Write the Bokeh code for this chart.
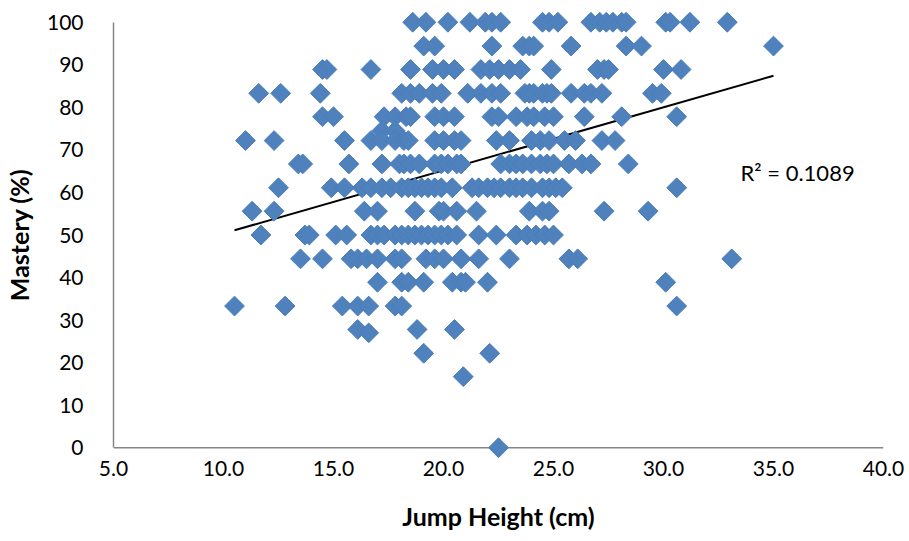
import numpy as np
from bokeh.plotting import figure
from bokeh.models import Range1d, FixedTicker, PrintfTickFormatter, Label
from bokeh.embed import file_html
from bokeh.resources import INLINE

# ---- data ----
h100 = [18.6, 19.2, 20.2, 21.2, 21.9, 22.2, 22.6, 24.5, 24.8, 25.2, 26.7, 27.1, 27.4, 27.7, 28.1, 28.3, 30.1, 30.3, 31.2, 32.9]
h944 = [19.1, 19.6, 22.2, 23.6, 23.9, 24.1, 25.8, 28.3, 29.0, 35.0]
h889 = [14.5, 14.7, 16.7, 18.5, 19.5, 20.0, 20.5, 21.7, 22.1, 22.5, 23.0, 23.5, 24.9, 27.0, 27.3, 27.5, 30.0, 30.8]
h833 = [11.6, 12.6, 14.4, 18.1, 18.5, 18.9, 19.5, 19.9, 21.1, 21.7, 22.2, 22.6, 23.7, 23.9, 24.1, 24.5, 24.7, 24.9, 25.8, 26.4, 26.7, 27.2, 29.5, 29.9]
h778 = [14.5, 15.0, 17.3, 17.8, 18.3, 18.5, 19.6, 20.0, 20.5, 22.2, 22.5, 23.3, 23.8, 24.1, 24.6, 25.0, 26.4, 28.1, 30.6]
h745 = [17.2, 17.8]
h722 = [11.0, 12.3, 15.5, 16.7, 17.2, 17.8, 18.2, 18.4, 19.6, 20.0, 20.5, 20.8, 22.4, 23.0, 24.0, 24.4, 24.8, 25.5, 26.0, 27.2, 27.8]
h667 = [13.4, 13.6, 15.7, 17.2, 18.0, 18.2, 18.5, 18.9, 19.6, 19.9, 20.2, 20.6, 20.8, 22.6, 23.0, 23.3, 23.6, 24.0, 24.4, 24.7, 25.0, 25.7, 26.3, 26.7, 28.4]
h611 = [12.5, 14.9, 15.5, 16.3, 16.7, 17.2, 17.6, 18.1, 18.4, 18.7, 19.0, 19.3, 19.6, 19.9, 20.4, 21.3, 21.6, 22.0, 22.3, 22.6, 23.0, 23.3, 23.6, 24.0, 24.5, 24.8, 25.1, 25.4, 30.6]
h556 = [11.3, 12.3, 16.4, 17.0, 18.7, 19.8, 20.0, 20.6, 21.5, 23.9, 24.5, 24.8, 27.3, 29.3]
h500 = [11.7, 13.7, 13.9, 15.1, 15.6, 16.7, 17.0, 17.3, 17.8, 18.1, 18.4, 18.7, 19.0, 19.3, 19.6, 19.9, 20.2, 20.6, 21.6, 22.4, 23.3, 23.8, 24.2, 24.6, 25.0]
h444 = [13.5, 14.5, 15.8, 16.1, 16.5, 17.0, 17.8, 18.1, 19.2, 19.6, 20.0, 20.8, 21.6, 23.0, 25.7, 26.1, 33.1]
h389 = [17.0, 18.1, 18.4, 19.1, 20.4, 20.8, 21.0, 22.0, 30.1]
h333 = [10.5, 12.8, 15.4, 16.1, 16.6, 17.8, 18.1, 30.6]
h278 = [16.1, 18.8, 20.5]
h270 = [16.6]
h222 = [19.1, 22.1]
h167 = [20.9]
h000 = [22.5]

rows = [(100.0, h100), (94.4, h944), (88.9, h889), (83.3, h833), (77.8, h778),
        (74.5, h745), (72.2, h722), (66.7, h667), (61.1, h611), (55.6, h556),
        (50.0, h500), (44.4, h444), (38.9, h389), (33.3, h333), (27.8, h278),
        (27.0, h270), (22.2, h222), (16.7, h167), (0.0, h000)]

jump_height = [h for lvl, hs in rows for h in hs]
mastery = [lvl for lvl, hs in rows for h in hs]

x_ticks = [5, 10, 15, 20, 25, 30, 35, 40]
y_ticks = [0, 10, 20, 30, 40, 50, 60, 70, 80, 90, 100]
r2_text = "R\u00b2 = 0.1089"

FONT = "Lato"
AXIS_GREY = "#868686"

p = figure(width=909, height=541,
           x_range=Range1d(x_ticks[0], x_ticks[-1]),
           y_range=Range1d(-3, 103),
           output_backend="svg", toolbar_location=None,
           min_border_left=113, min_border_right=26,
           min_border_top=9, min_border_bottom=81)
p.outline_line_color = None
p.xgrid.visible = False
p.ygrid.visible = False
p.background_fill_color = "white"
p.border_fill_color = "white"

# x axis: labels only, line drawn at y=0
xa = p.xaxis[0]
xa.ticker = FixedTicker(ticks=x_ticks)
xa.formatter = PrintfTickFormatter(format="%.1f")
xa.axis_line_color = None
xa.major_tick_line_color = None
xa.minor_tick_line_color = None
xa.major_tick_out = 0
xa.major_tick_in = 0
xa.major_label_standoff = 0
xa.major_label_text_font = FONT
xa.major_label_text_font_size = "21px"
xa.major_label_text_color = "black"
xa.axis_label = "Jump Height (cm)"
xa.axis_label_text_font = FONT
xa.axis_label_text_font_size = "25px"
xa.axis_label_text_font_style = "bold"
xa.axis_label_text_color = "black"
xa.axis_label_standoff = 22

ya = p.yaxis[0]
ya.ticker = FixedTicker(ticks=y_ticks)
ya.bounds = (y_ticks[0], y_ticks[-1])
ya.axis_line_color = AXIS_GREY
ya.axis_line_width = 1.5
ya.major_tick_line_color = None
ya.minor_tick_line_color = None
ya.major_tick_out = 0
ya.major_tick_in = 0
ya.major_label_standoff = 30
ya.major_label_text_font = FONT
ya.major_label_text_font_size = "21px"
ya.major_label_text_color = "black"
ya.axis_label = "Mastery (%)"
ya.axis_label_text_font = FONT
ya.axis_label_text_font_size = "25px"
ya.axis_label_text_font_style = "bold"
ya.axis_label_text_color = "black"
ya.axis_label_standoff = 10

# horizontal axis line at mastery = 0
p.segment(x0=[x_ticks[0]], y0=[y_ticks[0]], x1=[x_ticks[-1]], y1=[y_ticks[0]],
          line_color=AXIS_GREY, line_width=1.5)

# linear trend from the data
slope, intercept = np.polyfit(jump_height, mastery, 1)
tx = np.array([min(jump_height), max(jump_height)])
p.line(tx, slope * tx + intercept, line_color="black", line_width=2)

p.scatter(jump_height, mastery, marker="square", size=14, angle=np.pi / 4,
          fill_color="#4F81BD", line_color="#4A7EBB", line_width=1)

p.add_layout(Label(x=33.5, y=64.7, text=r2_text, text_font=FONT,
                   text_font_size="22px", text_baseline="middle",
                   text_color="black"))

open("out.html", "w").write(file_html(p, INLINE))
